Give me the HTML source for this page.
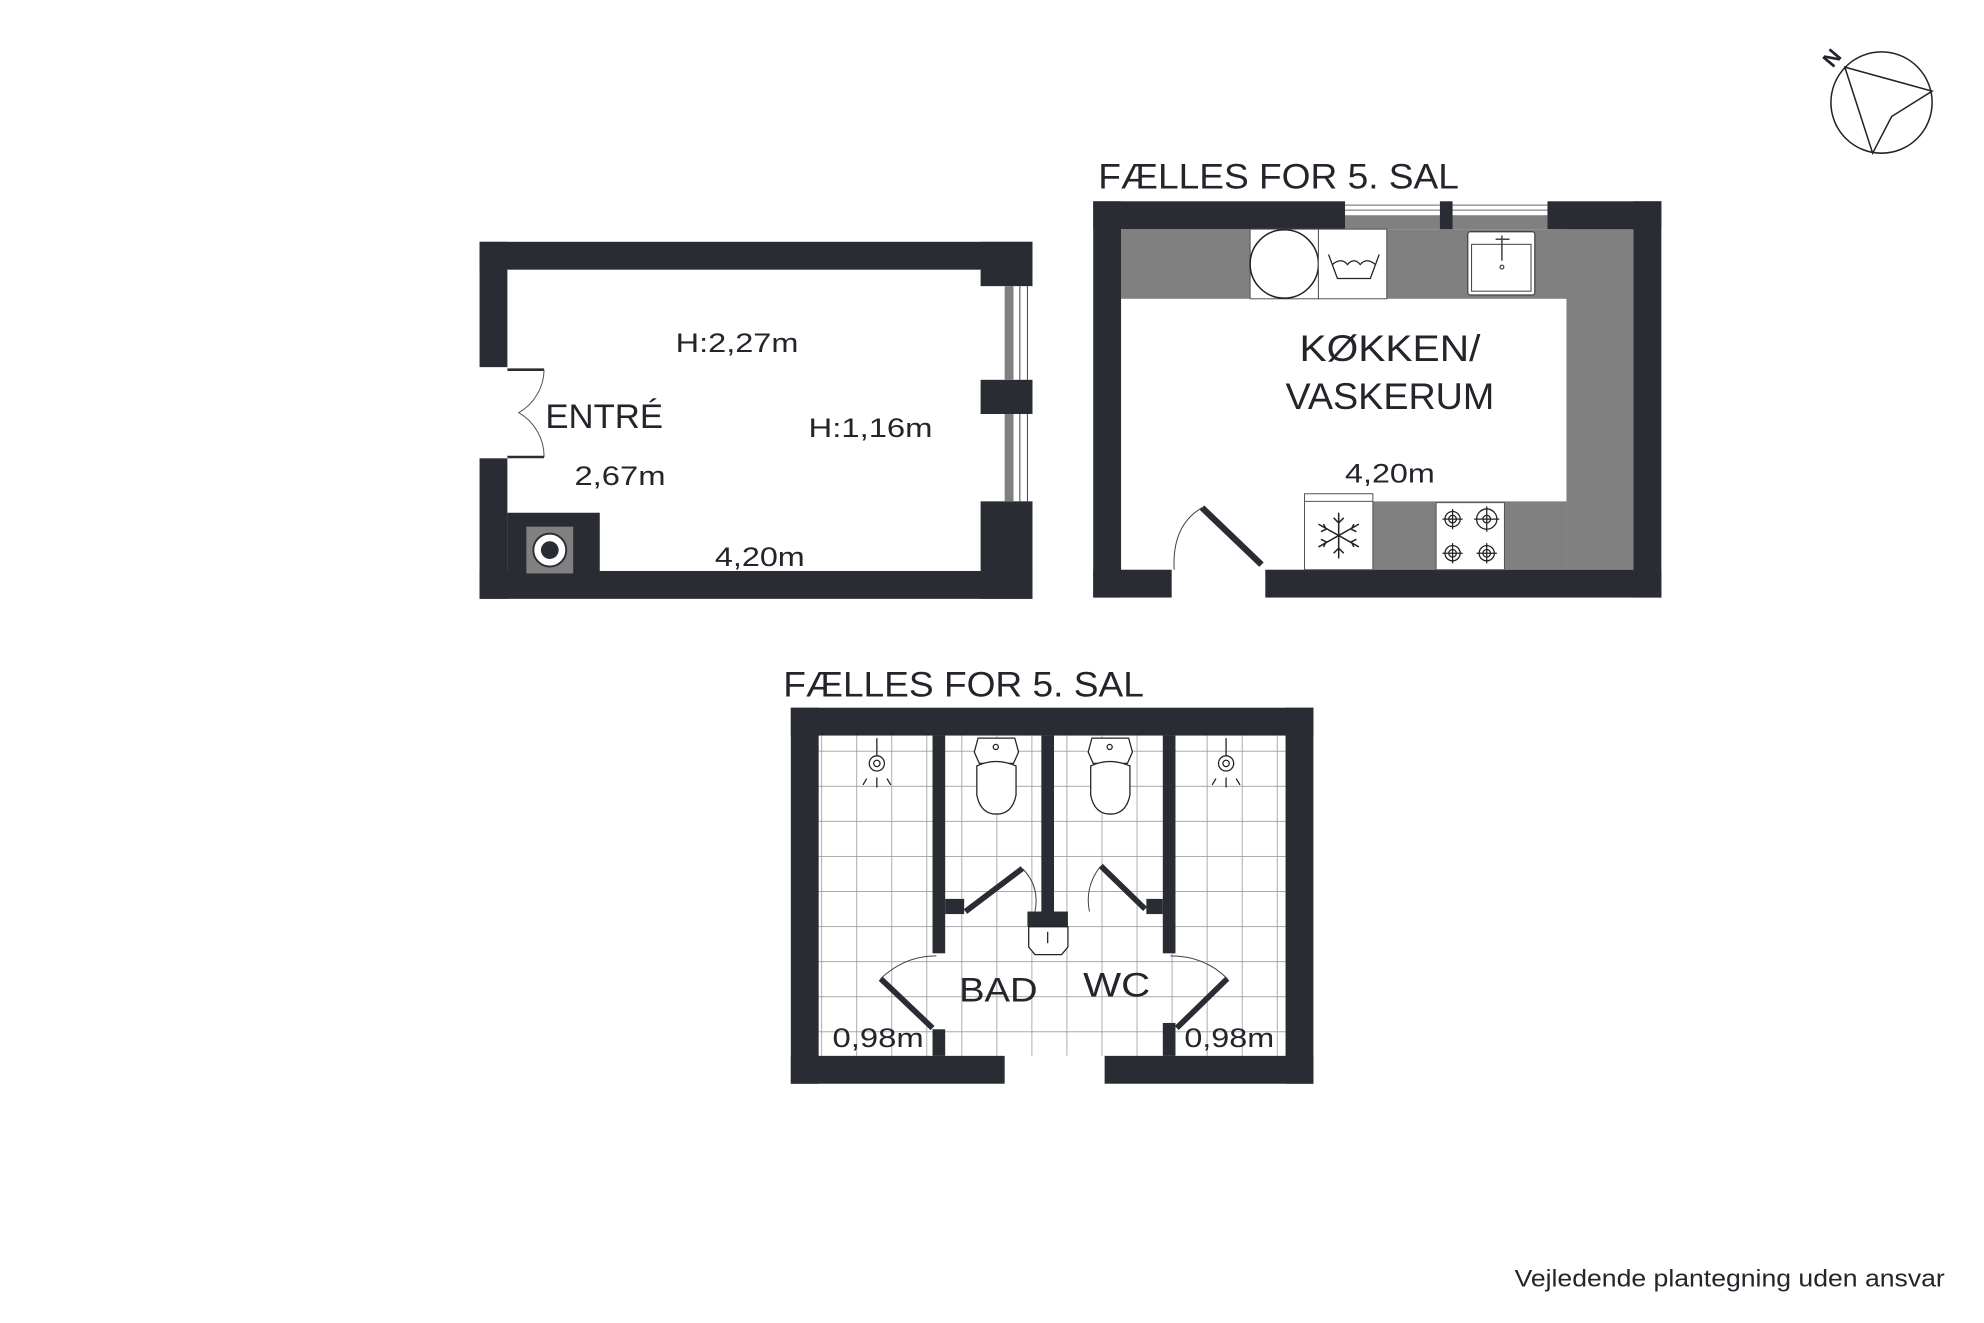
<!DOCTYPE html>
<html><head><meta charset="utf-8"><style>
html,body{margin:0;padding:0;background:#fff;}
svg{display:block;}
text{font-family:"Liberation Sans",sans-serif;fill:#23252b;}
</style></head><body>
<svg width="1984" height="1323" viewBox="0 0 1568 1045" preserveAspectRatio="none" xmlns="http://www.w3.org/2000/svg">
<defs>
<pattern id="tile" x="649" y="593" width="27.7" height="27.7" patternUnits="userSpaceOnUse">
<path d="M0 0H27.7M0 0V27.7" stroke="#9c9c9c" stroke-width="1.3" fill="none"/>
</pattern>
</defs>
<rect width="1568" height="1045" fill="#fff"/>

<!-- ENTRE -->
<g fill="#2a2c33">
<rect x="379" y="191" width="437" height="22"/>
<rect x="379" y="191" width="22" height="99"/>
<rect x="379" y="362" width="22" height="111"/>
<rect x="379" y="451" width="437" height="22"/>
<rect x="401" y="405" width="73" height="50"/>
<rect x="775" y="191" width="41" height="35"/>
<rect x="775" y="300" width="41" height="27"/>
<rect x="775" y="396" width="41" height="77"/>
</g>
<rect x="794" y="226" width="7" height="74" fill="#808080"/>
<rect x="794" y="327" width="7" height="69" fill="#808080"/>
<path d="M806 226V300M812 226V300M806 327V396M812 327V396" stroke="#444" stroke-width="0.8"/>
<rect x="416" y="416" width="37" height="37" fill="#808080"/>
<circle cx="434.5" cy="434.5" r="13" fill="#fff" stroke="#2a2c33" stroke-width="1.5"/>
<circle cx="434.5" cy="434.5" r="7" fill="#2a2c33"/>
<path d="M401 292H430M401 361H430" stroke="#2a2c33" stroke-width="2"/>
<path d="M430 292A40 40 0 0 1 410 326A40 40 0 0 1 430 361" stroke="#555" stroke-width="0.8" fill="none"/>
<text x="431" y="338" font-size="27" textLength="93" lengthAdjust="spacingAndGlyphs">ENTRÉ</text>
<text x="534" y="278" font-size="21" textLength="97" lengthAdjust="spacingAndGlyphs">H:2,27m</text>
<text x="639" y="345" font-size="21" textLength="98" lengthAdjust="spacingAndGlyphs">H:1,16m</text>
<text x="454" y="383" font-size="21" textLength="72" lengthAdjust="spacingAndGlyphs">2,67m</text>
<text x="565" y="447" font-size="21" textLength="71" lengthAdjust="spacingAndGlyphs">4,20m</text>

<!-- KOKKEN -->
<text x="868" y="149" font-size="28" textLength="285" lengthAdjust="spacingAndGlyphs">FÆLLES FOR 5. SAL</text>
<g fill="#808080">
<rect x="886" y="181" width="405" height="55"/>
<rect x="1238" y="181" width="53" height="269"/>
<rect x="1085" y="396" width="153" height="54"/>
<rect x="1063" y="170" width="160" height="11"/>
</g>
<g fill="#2a2c33">
<rect x="864" y="159" width="199" height="22"/>
<rect x="1138" y="159" width="10" height="22"/>
<rect x="1223" y="159" width="90" height="22"/>
<rect x="864" y="159" width="22" height="313"/>
<rect x="1291" y="159" width="22" height="313"/>
<rect x="864" y="450" width="62" height="22"/>
<rect x="1000" y="450" width="313" height="22"/>
</g>
<path d="M1063 162H1138M1063 166H1138M1148 162H1223M1148 166H1223" stroke="#666" stroke-width="0.8"/>
<rect x="988" y="181" width="54" height="55" fill="#fff" stroke="#555" stroke-width="0.8"/>
<circle cx="1015" cy="208.5" r="27" fill="none" stroke="#222" stroke-width="1.2"/>
<rect x="1042" y="181" width="54" height="55" fill="#fff" stroke="#555" stroke-width="0.8"/>
<path d="M1050 201L1057 220H1083L1090 201M1053 209Q1060 203 1065 209Q1070 203 1075 209Q1080 203 1087 209" stroke="#222" stroke-width="1" fill="none"/>
<rect x="1160" y="183" width="53" height="50" rx="2" fill="#fff" stroke="#444" stroke-width="1"/>
<rect x="1163" y="193" width="47" height="37" fill="none" stroke="#444" stroke-width="0.8"/>
<path d="M1187 186V206M1182 189H1193" stroke="#444" stroke-width="1.2"/>
<circle cx="1187" cy="211" r="1.5" fill="none" stroke="#444"/>
<rect x="1031" y="390" width="54" height="60" fill="#fff" stroke="#555" stroke-width="0.8"/>
<path d="M1031 396H1085" stroke="#555" stroke-width="0.8"/>
<g stroke="#222" stroke-width="1.2" fill="none" transform="translate(1058,423)">
<path d="M0 -18V18M-16 -9L16 9M-16 9L16 -9"/>
<path d="M-4 -14L0 -10L4 -14M-4 14L0 10L4 14M-14 -3L-10 -5L-12 -9M14 3L10 5L12 9M-14 3L-10 5L-12 9M14 -3L10 -5L12 -9"/>
</g>
<rect x="1135" y="397" width="54" height="53" fill="#fff" stroke="#555" stroke-width="0.8"/>
<g stroke="#222" stroke-width="1" fill="none">
<circle cx="1148" cy="410" r="6"/><circle cx="1148" cy="410" r="3"/><path d="M1140 410H1156M1148 402V418"/>
<circle cx="1175" cy="410" r="8"/><circle cx="1175" cy="410" r="3"/><path d="M1165 410H1185M1175 400V420"/>
<circle cx="1148" cy="437" r="6"/><circle cx="1148" cy="437" r="3"/><path d="M1140 437H1156M1148 429V445"/>
<circle cx="1175" cy="437" r="6"/><circle cx="1175" cy="437" r="3"/><path d="M1167 437H1183M1175 429V445"/>
</g>
<path d="M950 401L997 446" stroke="#2a2c33" stroke-width="5"/>
<path d="M928 450Q926 415 950 401" stroke="#444" stroke-width="0.8" fill="none"/>
<text x="1027" y="285" font-size="29" textLength="143" lengthAdjust="spacingAndGlyphs">KØKKEN/</text>
<text x="1016" y="323" font-size="29" textLength="165" lengthAdjust="spacingAndGlyphs">VASKERUM</text>
<text x="1063" y="381" font-size="21" textLength="71" lengthAdjust="spacingAndGlyphs">4,20m</text>

<!-- BAD / WC -->
<text x="619" y="550" font-size="28" textLength="285" lengthAdjust="spacingAndGlyphs">FÆLLES FOR 5. SAL</text>
<rect x="647" y="581" width="369" height="253" fill="url(#tile)"/>
<g fill="#2a2c33">
<rect x="625" y="559" width="413" height="22"/>
<rect x="625" y="559" width="22" height="297"/>
<rect x="1016" y="559" width="22" height="297"/>
<rect x="625" y="834" width="169" height="22"/>
<rect x="873" y="834" width="165" height="22"/>
<rect x="737" y="581" width="10" height="172"/>
<rect x="823" y="581" width="10" height="141"/>
<rect x="919" y="581" width="10" height="172"/>
<rect x="747" y="710" width="15" height="12"/>
<rect x="812" y="720" width="32" height="12"/>
<rect x="906" y="710" width="13" height="12"/>
<rect x="737" y="813" width="10" height="21"/>
<rect x="919" y="808" width="10" height="26"/>
</g>
<g fill="#fff" stroke="#222" stroke-width="1">
<path d="M773 583H802L805 594L801 603H774L770 594Z"/>
<path d="M772 605Q787 598 803 605V628Q800 643 787.5 643Q775 643 772 628Z"/>
<path d="M863 583H892L895 594L891 603H864L860 594Z"/>
<path d="M862 605Q877 598 893 605V628Q890 643 877.5 643Q865 643 862 628Z"/>
</g>
<circle cx="787" cy="590" r="2" fill="none" stroke="#222"/>
<circle cx="877" cy="590" r="2" fill="none" stroke="#222"/>
<g stroke="#222" stroke-width="1" fill="none">
<circle cx="693" cy="603" r="6"/><circle cx="693" cy="603" r="2.5"/><path d="M693 583V597M693 614V622M685 615L682 620M701 615L704 620"/>
<circle cx="969" cy="603" r="6"/><circle cx="969" cy="603" r="2.5"/><path d="M969 583V597M969 614V622M961 615L958 620M977 615L980 620"/>
</g>
<path d="M813 732H844V748L839 754H818L813 748Z" fill="#fff" stroke="#222" stroke-width="1"/>
<path d="M828 736V745" stroke="#222" stroke-width="1"/>
<g stroke="#2a2c33" stroke-width="4.5">
<path d="M763 720L808 686"/>
<path d="M870 684L905 718"/>
<path d="M696 773L737 812"/>
<path d="M970 773L930 812"/>
</g>
<g stroke="#444" stroke-width="0.8" fill="none">
<path d="M808 686Q822 700 818 720"/>
<path d="M870 684Q857 700 861 720"/>
<path d="M696 773Q715 755 740 755"/>
<path d="M970 773Q952 755 925 755"/>
</g>
<text x="758" y="791" font-size="27" textLength="62" lengthAdjust="spacingAndGlyphs">BAD</text>
<text x="856" y="787" font-size="27" textLength="53" lengthAdjust="spacingAndGlyphs">WC</text>
<text x="658" y="827" font-size="21" textLength="72" lengthAdjust="spacingAndGlyphs">0,98m</text>
<text x="936" y="827" font-size="21" textLength="71" lengthAdjust="spacingAndGlyphs">0,98m</text>

<g stroke="#222" stroke-width="1.2" fill="none">
<circle cx="1487" cy="81" r="40"/>
<path d="M1458 53L1527 72L1495 92L1480 121Z"/>
</g>
<text x="1447" y="52" font-size="17" font-weight="bold" transform="rotate(-50 1447 45)" text-anchor="middle">N</text>

<text x="1197" y="1016" font-size="19" textLength="340" lengthAdjust="spacingAndGlyphs">Vejledende plantegning uden ansvar</text>
</svg>
</body></html>
